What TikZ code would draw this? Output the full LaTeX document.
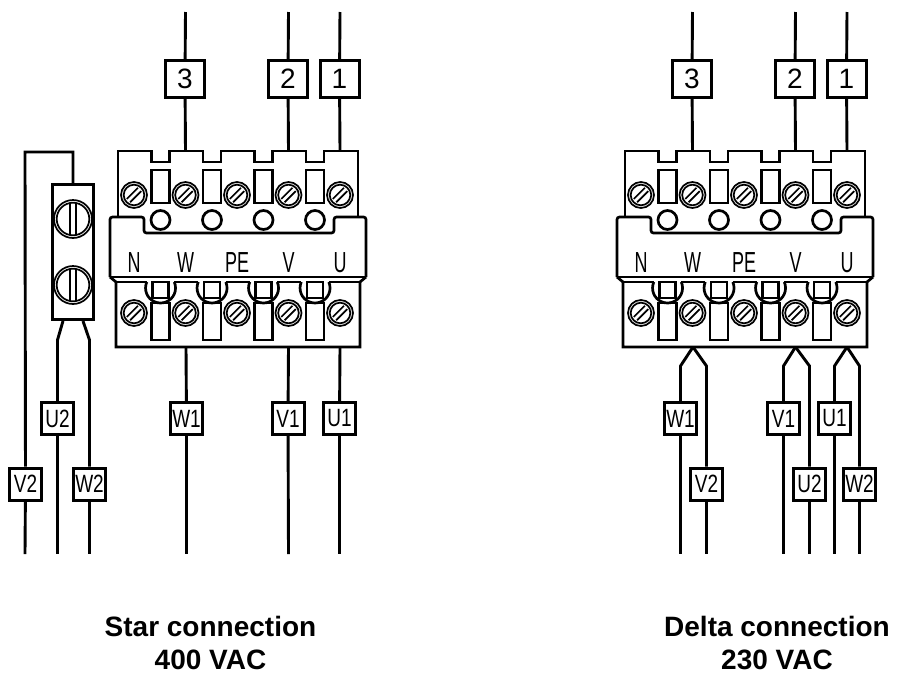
\documentclass[tikz,border=0pt]{standalone}
\usepackage{fontspec}
\setmainfont{Liberation Sans}
\newfontfamily\boxfont[FakeStretch=0.76]{Liberation Sans}
\newfontfamily\termfont[FakeStretch=0.62]{Liberation Sans}
\tikzset{
  body/.style={line width=2.7pt, line join=miter},
  screwline/.style={line width=1.7pt},
  wire/.style={line width=2.9pt},
  topbox/.style={draw, fill=white, line width=3pt, minimum width=39pt, minimum height=37pt, inner sep=0pt, font=\fontsize{28}{30}\selectfont},
  wbox/.style={draw, fill=white, line width=3pt, minimum width=32pt, minimum height=32pt, inner sep=0pt, font=\boxfont\fontsize{25}{27}\selectfont},
  termlbl/.style={anchor=base, inner sep=0pt, font=\termfont\fontsize{29}{31}\selectfont},
  titlelbl/.style={anchor=base, inner sep=0pt, font=\bfseries\fontsize{28}{30}\selectfont},
  bridgebox/.style={draw, line width=2.7pt, minimum width=41.3pt, minimum height=135.3pt, inner sep=0pt},
}
\newcommand\ScrewAt[2]{%
  \draw[screwline] (#1,#2) circle[radius=13pt] (#1,#2) circle[radius=10.3pt];
  \draw[screwline] ({#1-3.9},{#2+7.2}) -- ({#1+7.2},{#2-3.9})
                   ({#1-7.2},{#2+3.9}) -- ({#1+3.9},{#2-7.2});
}
\newcommand\FuseAt[2]{%
  \draw[screwline] (#1,#2) circle[radius=19pt] (#1,#2) circle[radius=16.3pt];
  \draw[screwline] ({#1-2.8},{#2-16}) -- ({#1-2.8},{#2+16})
                   ({#1+2.8},{#2-16}) -- ({#1+2.8},{#2+16});
}
\newcommand\TermBlock[2]{%
\begin{scope}[shift={(#2,0)}]
  % upper body with notches
  \draw[body] (118,217) -- (118,151)
    -- (151.5,151) -- (151.5,162) -- (169.5,162) -- (169.5,151)
    -- (203,151) -- (203,162) -- (221,162) -- (221,151)
    -- (254.5,151) -- (254.5,162) -- (272.5,162) -- (272.5,151)
    -- (306,151) -- (306,162) -- (324,162) -- (324,151)
    -- (358,151) -- (358,217);
  % middle band
  \draw[body, rounded corners=2.5pt] (110,277) -- (110,217) -- (144,217) -- (144,233)
    -- (334,233) -- (334,217) -- (366,217) -- (366,277);
  \draw[body] (110,277) -- (366,277);
  % lower body
  \draw[body] (110,277) -- (116,282) -- (116,347) -- (360,347) -- (360,282) -- (366,277);
  \draw[body] (116,282) -- (146.8,282) (174.2,282) -- (198.3,282)
    (225.7,282) -- (249.8,282) (277.2,282) -- (301.3,282) (328.7,282) -- (360,282);
  \foreach \m in {160.5,212,263.5,315} {
    \draw[body] ({\m-9},170) rectangle ({\m+9},203);
    \draw[body] (\m,220) circle[radius=9.5pt];
    \draw[body] ({\m-13.7},282) arc[start angle=156.4, end angle=383.6, radius=15pt];
    \draw[body] ({\m-8},282) rectangle ({\m+8},298);
    \draw[body] ({\m-9},303) rectangle ({\m+9},340);
  }
  \foreach \c in {134,185.5,237,288.5,340} {
    \ScrewAt{\c}{195}
    \ScrewAt{\c}{313}
  }
  % terminal labels
  \node[termlbl] (#1lN) at (134,272) {N};
  \node[termlbl] (#1lW) at (185.5,272) {W};
  \node[termlbl] (#1lPE) at (237,272) {PE};
  \node[termlbl] (#1lV) at (288.5,272) {V};
  \node[termlbl] (#1lU) at (340,272) {U};
  % supply wires
  \coordinate (#1t3) at (185.5,12);  \coordinate (#1k3) at (185.5,151);
  \coordinate (#1t2) at (288.5,12);  \coordinate (#1k2) at (288.5,151);
  \coordinate (#1t1) at (340,12);    \coordinate (#1k1) at (340,151);
  \node[topbox] (#1b3) at (185,79) {3};
  \node[topbox] (#1b2) at (288,79) {2};
  \node[topbox] (#1b1) at (339.5,79) {1};
  \draw[wire] (#1t3) -- (#1b3);  \draw[wire] (#1b3) -- (#1k3);
  \draw[wire] (#1t2) -- (#1b2);  \draw[wire] (#1b2) -- (#1k2);
  \draw[wire] (#1t1) -- (#1b1);  \draw[wire] (#1b1) -- (#1k1);
  % bottom terminal points
  \coordinate (#1kW) at (186,347);
  \coordinate (#1kV) at (288.5,347);
  \coordinate (#1kU) at (340,347);
\end{scope}}

\begin{document}
\begin{tikzpicture}[x=1pt,y=-1pt]
\useasboundingbox (0,0) rectangle (897,678);

% ================= Star connection (left) =================
\TermBlock{L}{0}
% motor leads W1, V1, U1
\node[wbox] (LW1) at (186.5,418.5) {W1};
\node[wbox] (LV1) at (288,418.5) {V1};
\node[wbox] (LU1) at (339.5,418.5) {U1};
\coordinate (LW1e) at (186.5,554);
\coordinate (LV1e) at (288.5,554);
\coordinate (LU1e) at (339.5,554);
\draw[wire] (LkW) -- (LW1); \draw[wire] (LW1) -- (LW1e);
\draw[wire] (LkV) -- (LV1); \draw[wire] (LV1) -- (LV1e);
\draw[wire] (LkU) -- (LU1); \draw[wire] (LU1) -- (LU1e);
% star bridge
\node[bridgebox] (Lbr) at (73,252) {};
\FuseAt{73}{219}
\FuseAt{73}{285}
\coordinate (Lv2a) at (73,152);
\coordinate (Lv2b) at (25,152);
\coordinate (Lv2e) at (25,554);
\node[wbox] (LV2) at (25.5,484) {V2};
\draw[wire] (Lbr.north) -- (Lv2a) -- (Lv2b) -- (LV2);
\draw[wire] (LV2) -- (Lv2e);
\coordinate (Lu2s) at (63,321);
\coordinate (Lu2k) at (57.5,340);
\coordinate (Lu2e) at (57.5,554);
\node[wbox] (LU2) at (57.5,418.5) {U2};
\draw[wire] (Lu2s) -- (Lu2k) -- (LU2);
\draw[wire] (LU2) -- (Lu2e);
\coordinate (Lw2s) at (83,321);
\coordinate (Lw2k) at (89.5,340);
\coordinate (Lw2e) at (89.5,554);
\node[wbox] (LW2) at (89.5,484) {W2};
\draw[wire] (Lw2s) -- (Lw2k) -- (LW2);
\draw[wire] (LW2) -- (Lw2e);
\node[titlelbl] (Lt1) at (210.5,636) {Star connection};
\node[titlelbl] (Lt2) at (210.5,669) {400 VAC};

% ================= Delta connection (right) =================
\TermBlock{R}{507}
% W pair
\coordinate (Rw1k) at (680.5,366);  \coordinate (Rw1e) at (680.5,554);
\coordinate (Rv2k) at (706.5,366);  \coordinate (Rv2e) at (706.5,554);
\node[wbox] (RW1) at (680.5,418.5) {W1};
\node[wbox] (RV2) at (706.5,484) {V2};
\draw[wire] (RkW) -- (Rw1k) -- (RW1); \draw[wire] (RW1) -- (Rw1e);
\draw[wire] (RkW) -- (Rv2k) -- (RV2); \draw[wire] (RV2) -- (Rv2e);
% V pair
\coordinate (Rv1k) at (783.5,366);  \coordinate (Rv1e) at (783.5,554);
\coordinate (Ru2k) at (809.5,366);  \coordinate (Ru2e) at (809.5,554);
\node[wbox] (RV1) at (783.5,418.5) {V1};
\node[wbox] (RU2) at (809.5,484) {U2};
\draw[wire] (RkV) -- (Rv1k) -- (RV1); \draw[wire] (RV1) -- (Rv1e);
\draw[wire] (RkV) -- (Ru2k) -- (RU2); \draw[wire] (RU2) -- (Ru2e);
% U pair
\coordinate (Ru1k) at (834.5,366);  \coordinate (Ru1e) at (834.5,554);
\coordinate (Rw2k) at (859.5,366);  \coordinate (Rw2e) at (859.5,554);
\node[wbox] (RU1) at (834.5,418.5) {U1};
\node[wbox] (RW2) at (859.5,484) {W2};
\draw[wire] (RkU) -- (Ru1k) -- (RU1); \draw[wire] (RU1) -- (Ru1e);
\draw[wire] (RkU) -- (Rw2k) -- (RW2); \draw[wire] (RW2) -- (Rw2e);
\node[titlelbl] (Rt1) at (777,636) {Delta connection};
\node[titlelbl] (Rt2) at (777,669) {230 VAC};
\end{tikzpicture}
\end{document}
